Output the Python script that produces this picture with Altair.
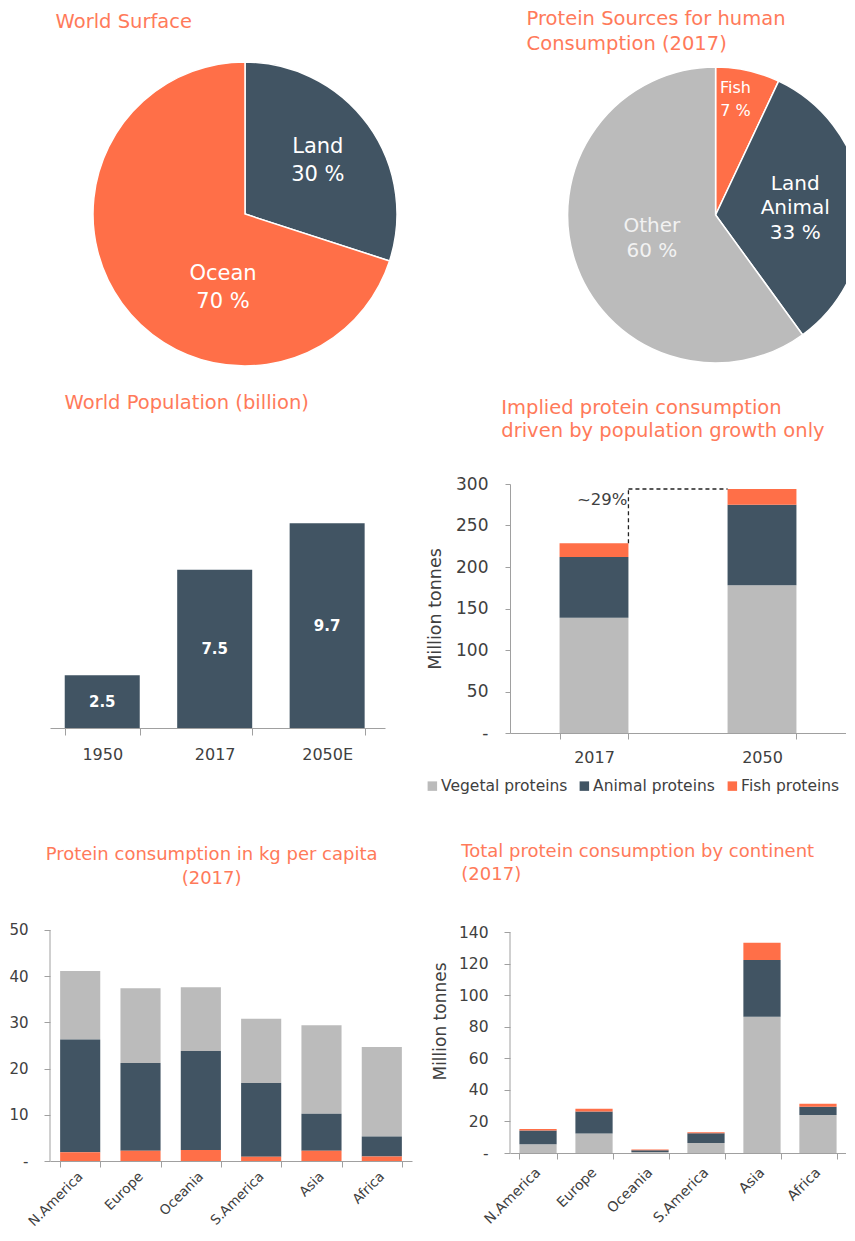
import altair as alt
import pandas as pd

FONT = "DejaVu Sans"
ORANGE = "#FF6F48"
DARK = "#415463"
GRAY = "#BBBBBB"
TITLE_COLOR = "#FF7A5A"
TEXT = "#404040"
AXIS = "#A0A0A0"

# ---------------- data ----------------
surface_labels = ["Land", "Ocean"]
surface_values = [30, 70]

source_labels = ["Fish", "Land Animal", "Other"]
source_values = [7, 33, 60]

pop_years = ["1950", "2017", "2050E"]
pop_values = [2.5, 7.5, 9.7]

implied_years = ["2017", "2050"]
implied_vegetal = [139, 178]
implied_animal = [73, 97]
implied_fish = [16.5, 19]
implied_growth_label = "~29%"

series_names = ["Vegetal proteins", "Animal proteins", "Fish proteins"]

continents = ["N.America", "Europe", "Oceania", "S.America", "Asia", "Africa"]
kg_fish = [1.9, 2.2, 2.4, 0.9, 2.2, 1.0]
kg_animal = [24.4, 19.0, 21.4, 16.0, 8.0, 4.3]
kg_vegetal = [14.8, 16.2, 13.8, 13.9, 19.2, 19.4]

tot_vegetal = [5.5, 12.3, 0.6, 6.3, 86.5, 24.1]
tot_animal = [8.7, 14.1, 1.1, 6.2, 35.9, 5.3]
tot_fish = [1.0, 1.7, 0.5, 0.6, 11.0, 1.9]

series_colors = [GRAY, DARK, ORANGE]
ZERO_DASH = "datum.value === 0 ? '-' : datum.label"


def ttl(lines, dx, offset, anchor="start", lh=24.5, subtitle=None, size=19.5):
    kw = dict(text=lines, anchor=anchor, frame="group", orient="top", dx=dx,
              offset=offset, font=FONT, fontSize=size, fontWeight="normal",
              color=TITLE_COLOR, lineHeight=lh)
    if subtitle:
        kw.update(subtitle=subtitle, subtitleFont=FONT, subtitleFontSize=size,
                  subtitleColor=TITLE_COLOR, subtitlePadding=5.5, subtitleFontWeight="normal")
    return alt.Title(**kw)


def pie(labels, values, colors, cx, cy, r, title, label_specs, w, h, clip=False):
    df = pd.DataFrame({"label": labels, "value": values,
                       "order": list(range(len(labels)))})
    base = alt.Chart(df)
    arcs = base.mark_arc(radius=r, stroke="white", strokeWidth=1.5, clip=clip).encode(
        theta=alt.Theta("value:Q", stack=True),
        color=alt.Color("label:N", scale=alt.Scale(domain=labels, range=colors), legend=None),
        order=alt.Order("order:Q"),
        x=alt.value(cx), y=alt.value(cy),
    )
    layers = [arcs]
    for lab, rad, size, lh, col, toff, ddy in label_specs:
        n_lines = len(lab.split(" ")) + 1
        t = (base.transform_window(cum="sum(value)", sort=[alt.SortField("order")], frame=[None, 0])
             .transform_calculate(mid="datum.cum - datum.value / 2",
                                  txt="replace(datum.label, ' ', '\\n') + '\\n' + datum.value + ' %'")
             .transform_filter(alt.datum.label == lab)
             .mark_text(radius=rad, fontSize=size, lineHeight=lh, color=col, lineBreak="\n",
                        baseline="middle", align="center", thetaOffset=toff,
                        dy=-(n_lines - 1) * lh / 2 + ddy)
             .encode(theta=alt.Theta("mid:Q", stack=None), text="txt:N",
                     x=alt.value(cx), y=alt.value(cy)))
        layers.append(t)
    return alt.layer(*layers).properties(width=w, height=h, title=title)


# ---------------- pies ----------------
pie1 = pie(surface_labels, surface_values, [DARK, ORANGE], 195, 205, 152,
           ttl(["World Surface"], 5.6, -23.4),
           [("Land", 90, 21, 28, "white", 0, 0), ("Ocean", 77, 21, 28, "white", -0.653, 0)],
           362, 362)

pie2 = pie(source_labels, source_values, [ORANGE, DARK, GRAY], 205.6, 206, 148,
           ttl("Protein Sources for human", 16.6, -45.1, subtitle="Consumption (2017)"),
           [("Fish", 117, 16, 23, "white", -0.05, 0),
            ("Land Animal", 80, 20, 24.5, "white", 0, 1),
            ("Other", 67, 20, 25, "#F2F2F2", 0, 3)],
           336, 362, clip=True)

# ---------------- world population ----------------
pop_df = pd.DataFrame({"year": pop_years, "value": pop_values})
pop_scale_x = alt.Scale(domain=pop_years, paddingInner=0.333, paddingOuter=0.156, align=0.42)
pop_scale_y = alt.Scale(domain=[0, 11.56], nice=False)
pop_x = alt.X("year:N", title=None, scale=pop_scale_x,
              axis=alt.Axis(tickBand="extent", labelAngle=0, tickSize=7, labelPadding=11,
                            labelFontSize=16))
pop_bars = alt.Chart(pop_df).mark_bar(color=DARK).encode(
    x=pop_x, y=alt.Y("value:Q", scale=pop_scale_y, axis=None))
pop_text = (alt.Chart(pop_df).transform_calculate(mid="datum.value / 2")
            .mark_text(color="white", fontWeight="bold", fontSize=15, baseline="middle")
            .encode(x=pop_x, y=alt.Y("mid:Q", scale=pop_scale_y, axis=None),
                    text=alt.Text("value:Q", format=".1f")))
pop_chart = alt.layer(pop_bars, pop_text).properties(
    width=335, height=244, title=ttl(["World Population (billion)"], 14.6, 70.6))

# ---------------- implied protein consumption ----------------
rows = []
for i, yr in enumerate(implied_years):
    for k, (s, vals) in enumerate(zip(series_names, [implied_vegetal, implied_animal, implied_fish])):
        rows.append({"year": yr, "series": s, "value": vals[i], "order": k})
imp_df = pd.DataFrame(rows)
imp_scale_x = alt.Scale(domain=implied_years, paddingInner=0.59, paddingOuter=0.295)
imp_scale_y = alt.Scale(domain=[0, 300], nice=False)
imp_bars = alt.Chart(imp_df).mark_bar().encode(
    x=alt.X("year:N", title=None, scale=imp_scale_x,
            axis=alt.Axis(tickBand="extent", labelAngle=0, tickSize=6, labelPadding=10,
                          labelFontSize=16)),
    y=alt.Y("sum(value):Q", stack="zero", title="Million tonnes", scale=imp_scale_y,
            axis=alt.Axis(values=list(range(0, 301, 50)), labelExpr=ZERO_DASH, tickSize=5,
                          labelPadding=17, labelFontSize=17, titleFontSize=17.5,
                          titleX=-75, titleY=124.5, titleAlign="center",
                          titleBaseline="middle")),
    color=alt.Color("series:N", scale=alt.Scale(domain=series_names, range=series_colors),
                    legend=alt.Legend(orient="none", legendX=-85.4, legendY=294,
                                      direction="horizontal", title=None, symbolType="square",
                                      symbolSize=90, symbolStrokeWidth=0, labelFontSize=15.5,
                                      labelColor=TEXT, columnPadding=9, labelOffset=1)),
    order=alt.Order("order:Q"),
)
tot17 = implied_vegetal[0] + implied_animal[0] + implied_fish[0]
tot50 = implied_vegetal[1] + implied_animal[1] + implied_fish[1]
ann_df = pd.DataFrame({"x1": [implied_years[0]], "x2": [implied_years[1]],
                       "y1": [tot17], "y2": [tot50], "txt": [implied_growth_label]})
ann = alt.Chart(ann_df)
v_rule = ann.mark_rule(strokeDash=[4, 3], color="#222222", strokeWidth=1.3).encode(
    x=alt.X("x1:N", bandPosition=1, scale=imp_scale_x), y=alt.Y("y1:Q", scale=imp_scale_y),
    y2="y2:Q")
h_rule = ann.mark_rule(strokeDash=[4, 3], color="#222222", strokeWidth=1.3).encode(
    x=alt.X("x1:N", bandPosition=1, scale=imp_scale_x),
    x2=alt.X2("x2:N", bandPosition=0),
    y=alt.Y("y2:Q", scale=imp_scale_y))
ann_text = ann.mark_text(align="right", baseline="middle", dy=11, dx=-1, fontSize=16.5,
                         color=TEXT).encode(
    x=alt.X("x1:N", bandPosition=1, scale=imp_scale_x), y=alt.Y("y2:Q", scale=imp_scale_y),
    text="txt:N")
imp_chart = alt.layer(imp_bars, v_rule, h_rule, ann_text).properties(
    width=336, height=249,
    title=ttl(["Implied protein consumption", "driven by population growth only"], -8.7, 33.3,
              lh=23.5))


# ---------------- continent charts ----------------
def continent_chart(series_vals, order_list, ymax, top, values, label_size, lab_pad,
                    width, height, title, ytitle=None, title_x=0, title_y=0):
    rows = []
    for s, vals in zip(series_names, series_vals):
        for c, v in zip(continents, vals):
            rows.append({"continent": c, "series": s, "value": v, "order": order_list[s]})
    df = pd.DataFrame(rows)
    sy = alt.Scale(domain=[0, ymax], nice=False)
    yaxis = dict(values=values, domain=False, labelExpr=ZERO_DASH, tickSize=6,
                 labelPadding=16, labelFontSize=label_size + 1.5)
    if ytitle:
        yaxis.update(titleFontSize=17, titleX=title_x, titleY=title_y, titleAlign="center",
                     titleBaseline="middle")
    bars = alt.Chart(df).mark_bar().encode(
        x=alt.X("continent:N", title=None,
                scale=alt.Scale(domain=continents, paddingInner=0.335, paddingOuter=0.168),
                axis=alt.Axis(tickBand="extent", labelAngle=-45, labelAlign="right",
                              labelBaseline="middle", labelFontSize=label_size, tickSize=6,
                              labelPadding=lab_pad, labelOverlap=False)),
        y=alt.Y("sum(value):Q", stack="zero", title=ytitle if ytitle else None, scale=sy,
                axis=alt.Axis(**yaxis)),
        color=alt.Color("series:N", scale=alt.Scale(domain=series_names, range=series_colors),
                        legend=None),
        order=alt.Order("order:Q"),
    )
    axis_line = alt.Chart(pd.DataFrame({"k": [0]})).mark_rule(color=AXIS).encode(
        x=alt.value(0), y=alt.datum(0, scale=sy), y2=alt.datum(top))
    return alt.layer(axis_line, bars).properties(width=width, height=height, title=title)


kg_chart = continent_chart(
    [kg_vegetal, kg_animal, kg_fish],
    {"Fish proteins": 0, "Animal proteins": 1, "Vegetal proteins": 2},
    68.18, 50, [0, 10, 20, 30, 40, 50], 13.5, 7, 362, 315,
    ttl(["Protein consumption in kg per capita", "(2017)"], -19.4, -41.5, anchor="middle",
        lh=23.5, size=18))

tot_chart = continent_chart(
    [tot_vegetal, tot_animal, tot_fish],
    {"Vegetal proteins": 0, "Animal proteins": 1, "Fish proteins": 2},
    194.8, 140, list(range(0, 141, 20)), 14, 11, 336, 307,
    ttl(["Total protein consumption by continent", "(2017)"], -48.7, -37.5, lh=23, size=18),
    ytitle="Million tonnes", title_x=-70, title_y=175)

chart = (
    alt.concat(pie1, pie2, pop_chart, imp_chart, kg_chart, tot_chart, columns=2,
               spacing=alt.RowColnumber(row=113, column=98), bounds="flush")
    .resolve_scale(color="independent", theta="independent", x="independent", y="independent")
    .properties(padding=0, background="white")
    .configure(font=FONT)
    .configure_view(stroke=None)
    .configure_axis(labelFont=FONT, titleFont=FONT, labelColor=TEXT, titleColor=TEXT,
                    titleFontWeight="normal", domainColor=AXIS, tickColor=AXIS, grid=False)
    .configure_legend(labelFont=FONT)
    .configure_text(font=FONT)
)

chart.save("out.html", embed_options={"renderer": "svg", "actions": False})
